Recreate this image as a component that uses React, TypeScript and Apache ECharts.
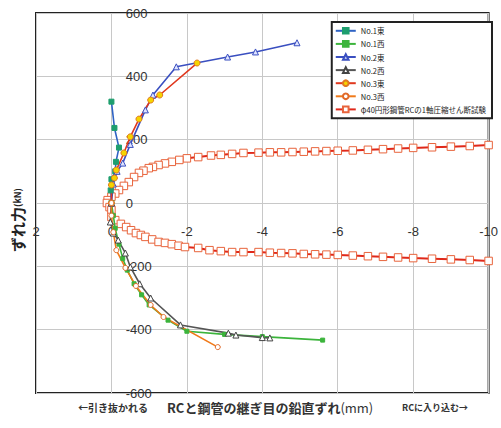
import React, { useEffect, useRef } from 'react';
import * as echarts from 'echarts';

const seriesNames = ['No.1東', 'No.1西', 'No.2東', 'No.2西', 'No.3東', 'No.3西', 'φ40円形鋼管RCの1軸圧縮せん断試験'];

const no1East = [[0, 0], [0.02, 40], [0, 75], [-0.1, 100], [-0.12, 130], [-0.2, 175], [-0.08, 237], [0, 320]];
const no1West = [[0, 0], [-0.05, -40], [-0.1, -80], [-0.2, -130], [-0.3, -175], [-0.42, -212], [-0.6, -255], [-0.8, -290], [-1.0, -322], [-1.5, -370], [-2.0, -405], [-3.0, -415], [-4.0, -422], [-5.6, -433]];
const no2East = [[0, 0], [-0.05, 60], [-0.15, 100], [-0.3, 126], [-0.5, 185], [-0.9, 294], [-1.1, 341], [-1.72, 430], [-3.08, 461], [-3.82, 477], [-4.92, 506]];
const no2West = [[0, 0], [0.03, -60], [-0.05, -95], [-0.18, -117], [-0.37, -158], [-0.5, -202], [-0.75, -255], [-1.04, -300], [-1.83, -385], [-3.1, -411], [-3.3, -417], [-4.0, -425], [-4.2, -426]];
const no3East = [[0, 0], [0, 57], [-0.08, 79], [-0.13, 104], [-0.33, 158], [-0.5, 209], [-0.73, 265], [-1.04, 325], [-1.28, 341], [-2.27, 442]];
const no3West = [[0, 0], [0, -40], [-0.05, -92], [-0.13, -149], [-0.37, -205], [-0.65, -262], [-1.04, -322], [-1.38, -360], [-2.82, -455]];
const phi40 = [
  [-10, 183], [-9.5, 180], [-9.0, 178], [-8.5, 176], [-8.0, 174], [-7.6, 172], [-7.2, 170], [-6.8, 168], [-6.4, 166],
  [-6.0, 165], [-5.7, 164], [-5.4, 163], [-5.1, 162], [-4.8, 161], [-4.5, 160], [-4.2, 160], [-3.9, 159], [-3.5, 158],
  [-3.2, 155], [-2.9, 152], [-2.64, 150], [-2.3, 145], [-2.0, 141], [-1.8, 136], [-1.6, 130], [-1.42, 125], [-1.25, 120],
  [-1.1, 114], [-0.99, 110], [-0.85, 102], [-0.73, 95], [-0.6, 82], [-0.46, 66], [-0.33, 54], [-0.2, 41], [-0.1, 30],
  [0.0, 20], [0.1, 9], [0.12, 0], [0.05, -13], [0, -22], [0, -44], [-0.1, -54], [-0.25, -66], [-0.39, -76], [-0.52, -86],
  [-0.65, -95], [-0.78, -101], [-0.9, -107], [-1.08, -115], [-1.25, -123], [-1.42, -126], [-1.6, -130], [-1.78, -135],
  [-1.95, -139], [-2.3, -142], [-2.6, -149], [-2.9, -152], [-3.2, -155], [-3.5, -155], [-3.9, -155], [-4.2, -157],
  [-4.5, -158], [-4.8, -159], [-5.1, -161], [-5.4, -162], [-5.7, -163], [-6.0, -164], [-6.4, -166], [-6.8, -168],
  [-7.2, -170], [-7.6, -172], [-8.0, -174], [-8.5, -176], [-9.0, -178], [-9.5, -180], [-10, -183],
];

const xMin = -10, xMax = 2, xStep = 2;
const yMin = -600, yMax = 600, yStep = 200;

const GL = 36, GR = 11, GT = 13, GB = 35, W = 501, H = 428;

export default function App() {
  const ref = useRef<HTMLDivElement>(null);
  useEffect(() => {
    const chart = echarts.init(ref.current!, null, { renderer: 'svg' });
    const jp = '"Noto Sans CJK JP", sans-serif';
    const plotW = W - GL - GR;
    const plotH = H - GT - GB;
    const xZeroOffset = -((0 - yMin) / (yMax - yMin)) * plotH;
    const yZeroOffset = -((xMax - 0) / (xMax - xMin)) * plotW;
    const mk = (name: string, data: number[][], line: string, sym: string, fill: string, border: string, size: number, lw = 1.6, z = 3) => ({
      type: 'line', name, data, symbol: sym, symbolSize: size, z,
      lineStyle: { color: line, width: lw },
      itemStyle: { color: fill, borderColor: border, borderWidth: 1 },
    });
    chart.setOption({
      animation: false,
      grid: { left: GL, right: GR, top: GT, bottom: GB, show: true, borderColor: '#222', borderWidth: 2, backgroundColor: 'transparent' },
      xAxis: {
        type: 'value', min: xMin, max: xMax, interval: xStep, inverse: true,
        position: 'bottom', offset: xZeroOffset,
        axisLine: { show: false, onZero: false },
        axisTick: { show: false },
        axisLabel: { margin: 22, fontSize: 13, color: '#333', fontFamily: '"Liberation Sans", Arial' },
        splitLine: { show: true, lineStyle: { color: '#c8c8c8', width: 1 } },
      },
      yAxis: {
        type: 'value', min: yMin, max: yMax, interval: yStep,
        position: 'left', offset: yZeroOffset,
        axisLine: { show: false, onZero: false },
        axisTick: { show: false },
        axisLabel: { inside: true, margin: 14, fontSize: 13, color: '#333', fontFamily: '"Liberation Sans", Arial' },
        splitLine: { show: true, lineStyle: { color: '#c8c8c8', width: 1 } },
      },
      legend: {
        orient: 'vertical', right: 9, top: 22, data: seriesNames,
        itemWidth: 20, itemHeight: 7, itemGap: 5.5,
        padding: [5, 6, 5, 3],
        borderColor: '#222', borderWidth: 2, backgroundColor: '#fff',
        textStyle: { fontSize: 7.5, color: '#222', fontFamily: jp },
      },
      series: [
        mk(seriesNames[6], phi40, '#e0281a', 'rect', '#fff', '#e8643c', 7.5, 2, 2),
        mk(seriesNames[0], no1East, '#2f63c4', 'rect', '#1e9e6e', '#1e9e6e', 5),
        mk(seriesNames[1], no1West, '#3cb43c', 'rect', '#3cb43c', '#3cb43c', 4),
        mk(seriesNames[2], no2East, '#3a4fc0', 'triangle', '#dfe4ff', '#3a4fc0', 6),
        mk(seriesNames[3], no2West, '#555555', 'triangle', '#fff', '#444', 6),
        mk(seriesNames[4], no3East, '#e0381e', 'circle', '#f5d400', '#e07a20', 6),
        mk(seriesNames[5], no3West, '#f07a1a', 'circle', '#fff', '#e06a2a', 5),
      ],
      graphic: [
        {
          type: 'text', x: 17, y: 220, rotation: Math.PI / 2,
          style: {
            text: '{a|ずれ力}{b|(kN)}', align: 'center', verticalAlign: 'middle',
            rich: {
              a: { fontSize: 15, fontWeight: 'bold', fontFamily: jp, fill: '#222' },
              b: { fontSize: 9, fontWeight: 'bold', fontFamily: jp, fill: '#222' },
            },
          },
        },
        { type: 'text', x: 78, y: 407, style: { text: '←引き抜かれる', fontSize: 10, fontWeight: 'bold', fontFamily: jp, fill: '#333', verticalAlign: 'middle' } },
        {
          type: 'text', x: 167, y: 407,
          style: {
            text: '{a|RCと鋼管の継ぎ目の鉛直ずれ}{b|(mm)}', verticalAlign: 'middle',
            rich: {
              a: { fontSize: 13, fontWeight: 'bold', fontFamily: jp, fill: '#333' },
              b: { fontSize: 13, fontFamily: jp, fill: '#333' },
            },
          },
        },
        { type: 'text', x: 402, y: 407, style: { text: 'RCに入り込む→', fontSize: 9, fontWeight: 'bold', fontFamily: jp, fill: '#333', verticalAlign: 'middle' } },
      ],
    });
    return () => chart.dispose();
  }, []);
  return <div ref={ref} style={{ position: 'fixed', left: 0, top: 0, width: W, height: H, background: '#fff' }} />;
}
